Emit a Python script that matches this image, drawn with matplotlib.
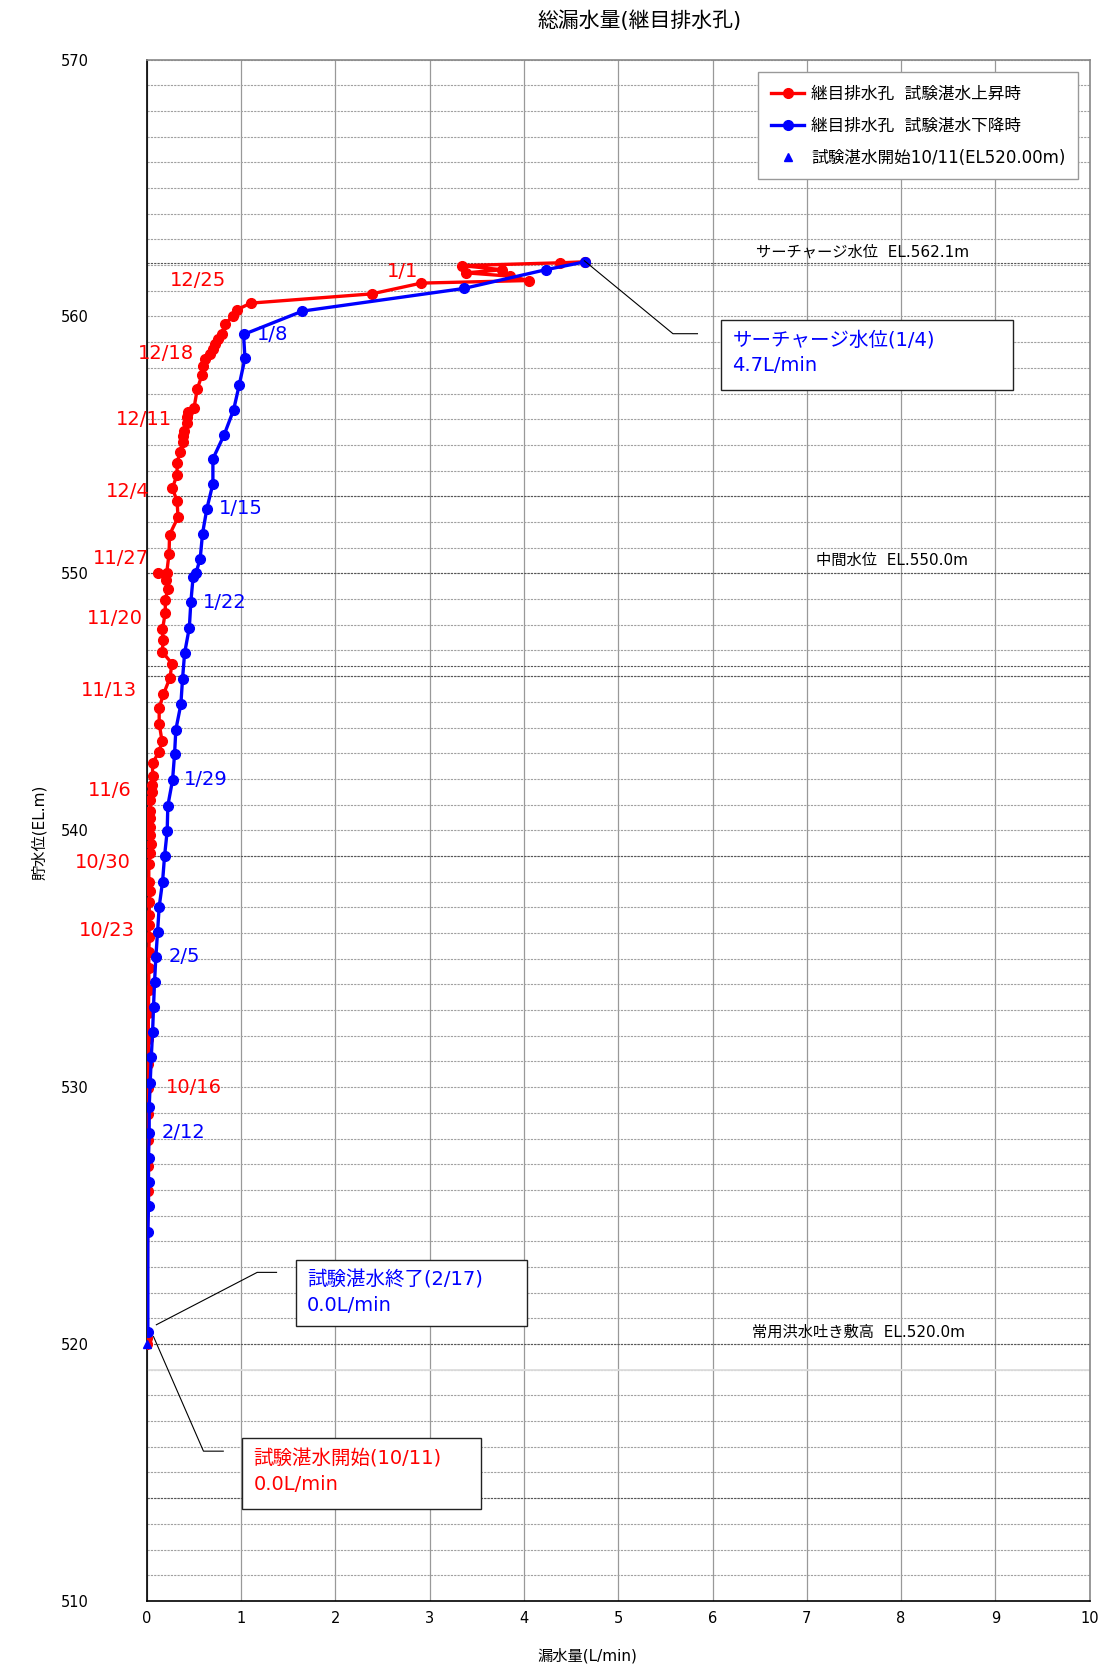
"""
Total leakage (joint drain holes) vs reservoir level during test impounding.
"""
import matplotlib.pyplot as plt
from matplotlib.patches import Rectangle

plt.rcParams["font.family"] = ["DejaVu Sans", "Noto Sans CJK JP"]

# rising stage (red), ordered from start of impounding
EL_UP = [520.0, 520.25, 525.96, 526.94, 527.94, 528.94, 529.95, 530.89, 531.89, 532.89,
         533.80, 534.62, 535.27, 535.83, 536.33, 536.72, 537.21, 537.63, 537.99, 538.68,
         539.12, 539.48, 539.81, 540.13, 540.46, 540.75, 541.17, 541.49, 541.78, 542.10,
         542.63, 543.05, 543.48, 544.15, 544.76, 545.29, 545.94, 546.49, 546.94, 547.39,
         547.82, 548.47, 548.95, 549.38, 549.73, 550.02, 550.02, 550.77, 551.50, 552.19,
         552.81, 553.32, 553.84, 554.29, 554.72, 555.11, 555.34, 555.56, 555.85, 556.08,
         556.28, 556.45, 557.19, 557.73, 558.07, 558.35, 558.55, 558.74, 558.91, 559.13,
         559.33, 559.72, 560.00, 560.27, 560.52, 560.88, 561.30, 561.40, 561.57, 561.70,
         561.82, 561.98, 562.09, 562.13]
Q_UP = [0.0, 0.0, 0.01, 0.01, 0.01, 0.01, 0.015, 0.015, 0.015, 0.015,
        0.02, 0.02, 0.02, 0.025, 0.02, 0.025, 0.025, 0.03, 0.02, 0.02,
        0.035, 0.04, 0.035, 0.035, 0.035, 0.035, 0.03, 0.05, 0.05, 0.06,
        0.06, 0.13, 0.16, 0.13, 0.13, 0.175, 0.245, 0.265, 0.165, 0.17,
        0.165, 0.195, 0.195, 0.22, 0.20, 0.12, 0.21, 0.235, 0.24, 0.33,
        0.32, 0.27, 0.32, 0.32, 0.35, 0.38, 0.38, 0.39, 0.42, 0.42,
        0.44, 0.50, 0.535, 0.585, 0.60, 0.62, 0.67, 0.705, 0.725, 0.75,
        0.795, 0.83, 0.91, 0.96, 1.10, 2.385, 2.91, 4.05, 3.85, 3.385,
        3.77, 3.34, 4.38, 4.65]

# falling stage (blue), ordered from surcharge level down
EL_DOWN = [562.13, 561.82, 561.09, 560.21, 559.30, 558.37, 557.35, 556.37, 555.40, 554.46,
           553.49, 552.52, 551.55, 550.57, 550.01, 549.86, 548.88, 547.89, 546.90, 545.90,
           544.90, 543.92, 542.95, 541.95, 540.96, 539.97, 538.99, 538.00, 537.02, 536.04,
           535.07, 534.10, 533.12, 532.13, 531.16, 530.18, 529.21, 528.22, 527.25, 526.32,
           525.37, 524.37, 520.48]
Q_DOWN = [4.65, 4.23, 3.36, 1.65, 1.025, 1.04, 0.98, 0.92, 0.82, 0.70,
          0.70, 0.636, 0.59, 0.565, 0.52, 0.49, 0.466, 0.45, 0.40, 0.378,
          0.36, 0.307, 0.293, 0.272, 0.222, 0.215, 0.187, 0.166, 0.13, 0.113,
          0.095, 0.081, 0.07, 0.06, 0.046, 0.035, 0.024, 0.024, 0.017, 0.017,
          0.017, 0.01, 0.01]

START_Q, START_EL = 0.0, 520.0

UP_DATES = ["12/25", "1/1", "12/18", "12/11", "12/4", "11/27", "11/20", "11/13",
            "11/6", "10/30", "10/23", "10/16"]
UP_DATE_Q = [0.545, 2.716, 0.205, -0.03, -0.20, -0.28, -0.34, -0.40, -0.39, -0.47, -0.43, 0.50]
UP_DATE_EL = [561.42, 561.75, 558.54, 556.0, 553.17, 550.58, 548.25, 545.46, 541.54, 538.75,
              536.08, 530.0]

DOWN_DATES = ["1/8", "1/15", "1/22", "1/29", "2/5", "2/12"]
DOWN_DATE_Q = [1.33, 1.0, 0.83, 0.625, 0.40, 0.386]
DOWN_DATE_EL = [559.29, 552.54, 548.88, 541.96, 535.08, 528.25]

REF_LABELS = ["サーチャージ水位  EL.562.1m", "中間水位  EL.550.0m", "常用洪水吐き敷高  EL.520.0m"]
REF_LABEL_Q = [7.59, 7.90, 7.55]
REF_LABEL_EL = [562.5, 550.5, 520.46]

DARK_LINES = [562.1, 553.0, 550.0, 546.4, 546.0, 539.0, 520.0, 514.0]

RED = "#ff0000"
BLUE = "#0000ff"


def callout(ax, leader_q, leader_el, box, lines, color):
    ax.plot(leader_q, leader_el, color="black", lw=0.8, zorder=4, clip_on=False)
    x0, y0, x1, y1 = box
    ax.add_patch(Rectangle((x0, y0), x1 - x0, y1 - y0, facecolor="white",
                           edgecolor="#222222", lw=1.0, zorder=5))
    tx = x0 + 0.12
    for i, s in enumerate(lines):
        ty = y1 - 0.8 - i * 1.0
        ax.text(tx, ty, s, color=color, fontsize=14, ha="left", va="center", zorder=6)


def main():
    fig = plt.figure(figsize=(11.13, 16.79), dpi=100)
    ax = fig.add_axes([0.132, 0.0465, 0.847, 0.918])

    ax.set_xlim(0, 10)
    ax.set_ylim(510, 570)
    ax.set_xticks(range(0, 11))
    ax.set_yticks(range(510, 571, 10))
    ax.set_yticks(range(510, 571, 1), minor=True)

    ax.grid(axis="x", which="major", color="#999999", lw=0.9, ls="-")
    ax.grid(axis="y", which="minor", color="#a0a0a0", lw=0.8, ls=(0, (2, 1)))
    ax.grid(axis="y", which="major", color="#a0a0a0", lw=0.8, ls=(0, (2, 1)))
    for lv in DARK_LINES:
        ax.axhline(lv, color="#555555", lw=0.8, ls=(0, (2, 1)), zorder=1)
    ax.axhline(519.0, color="#dddddd", lw=1.3, zorder=1)
    ax.set_axisbelow(True)

    for s in ("top", "right"):
        ax.spines[s].set_color("#888888")
        ax.spines[s].set_linewidth(1.2)
    for s in ("left", "bottom"):
        ax.spines[s].set_color("black")
        ax.spines[s].set_linewidth(1.2)

    ax.tick_params(axis="y", which="both", length=0, pad=42, labelsize=10.5)
    ax.tick_params(axis="x", length=0, pad=7, labelsize=10.5)

    ax.plot(Q_UP, EL_UP, color=RED, lw=2.4, marker="o", ms=7, zorder=3,
            label="継目排水孔  試験湛水上昇時")
    ax.plot(Q_DOWN, EL_DOWN, color=BLUE, lw=2.4, marker="o", ms=7, zorder=3,
            label="継目排水孔  試験湛水下降時")
    ax.plot([START_Q], [START_EL], ls="none", marker="^", color=BLUE, ms=6, zorder=4,
            clip_on=False, label="試験湛水開始10/11(EL520.00m)")

    for s, q, el in zip(UP_DATES, UP_DATE_Q, UP_DATE_EL):
        ax.text(q, el, s, color=RED, fontsize=14, ha="center", va="center", clip_on=False)
    for s, q, el in zip(DOWN_DATES, DOWN_DATE_Q, DOWN_DATE_EL):
        ax.text(q, el, s, color=BLUE, fontsize=14, ha="center", va="center")
    for s, q, el in zip(REF_LABELS, REF_LABEL_Q, REF_LABEL_EL):
        ax.text(q, el, s, color="black", fontsize=11, ha="center", va="center")

    callout(ax, [4.64, 5.58, 5.84], [562.17, 559.33, 559.33],
            (6.09, 557.125, 9.19, 559.875), ["サーチャージ水位(1/4)", "4.7L/min"], BLUE)
    callout(ax, [0.10, 1.17, 1.375], [520.75, 522.79, 522.79],
            (1.58, 520.71, 4.03, 523.29), ["試験湛水終了(2/17)", "0.0L/min"], BLUE)
    callout(ax, [0.07, 0.60, 0.81], [520.29, 515.83, 515.83],
            (1.01, 513.58, 3.545, 516.33), ["試験湛水開始(10/11)", "0.0L/min"], RED)

    leg = ax.legend(loc="upper right", bbox_to_anchor=(0.9875, 0.992), borderaxespad=0,
                    fontsize=12, handlelength=2.0, handletextpad=0.4, labelspacing=0.85,
                    borderpad=0.75, fancybox=False, framealpha=1, edgecolor="#999999")
    leg.get_frame().set_linewidth(1.0)

    fig.text(0.575, 0.9875, "総漏水量(継目排水孔)", ha="center", va="center", fontsize=15)
    fig.text(0.528, 0.014, "漏水量(L/min)", ha="center", va="center", fontsize=11)
    fig.text(0.035, 0.504, "貯水位(EL.m)", ha="center", va="center", rotation=90, fontsize=11)

    fig.savefig("out.png", dpi=100)
    plt.close(fig)


if __name__ == "__main__":
    main()
